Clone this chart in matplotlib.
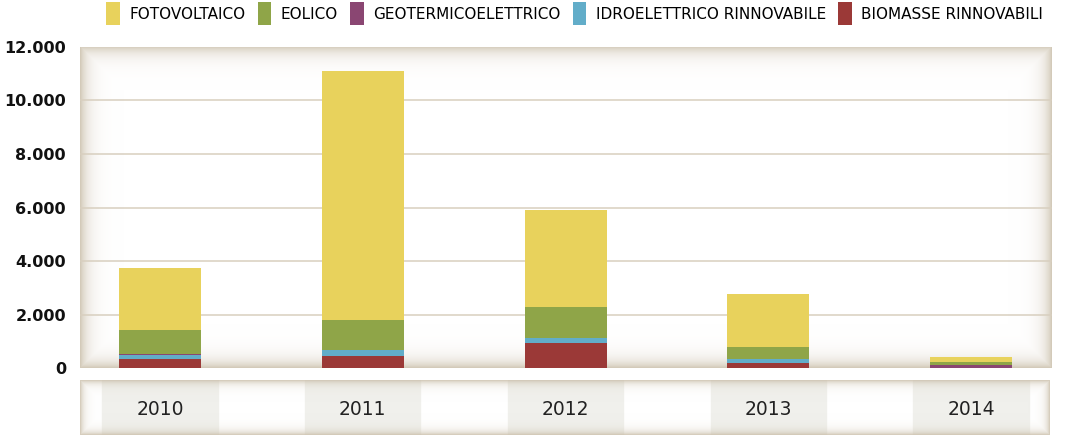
import matplotlib.pyplot as plt
import numpy as np

years = ['2010', '2011', '2012', '2013', '2014']
biomasse = [335, 458, 942, 209, 5]
idro = [150, 224, 186, 126, 20]
geo = [50, 5, 5, 5, 98]
eolico = [905, 1128, 1167, 470, 122]
fotovoltaico = [2297, 9288, 3601, 1962, 175]

series = [
    ('BIOMASSE RINNOVABILI', biomasse, '#9b3937'),
    ('IDROELETTRICO RINNOVABILE', idro, '#62adc9'),
    ('GEOTERMICOELETTRICO', geo, '#8a4672'),
    ('EOLICO', eolico, '#8fa548'),
    ('FOTOVOLTAICO', fotovoltaico, '#e8d25c'),
]

W, H = 1066, 446
fig = plt.figure(figsize=(W / 100, H / 100), dpi=100)
fig.patch.set_facecolor('white')

x = np.arange(len(years))
xlim = (-80 / 202.75, (1052 - 160) / 202.75)
beige = np.array([0.80, 0.76, 0.68])


def shade(ax, wpx, hpx, decay=7.0, strength=0.85):
    # soft inner shadow along the frame edges
    yy, xx = np.mgrid[0:hpx, 0:wpx]
    d = np.minimum.reduce([xx, wpx - 1 - xx, yy, hpx - 1 - yy]).astype(float)
    img = np.zeros((hpx, wpx, 4))
    img[..., :3] = beige
    img[..., 3] = strength * np.exp(-d / decay)
    ax.imshow(img, extent=[*ax.get_xlim(), *ax.get_ylim()], aspect='auto',
              zorder=0, interpolation='bilinear')


# main chart
ax = fig.add_axes([80 / W, 1 - 368.3 / H, 972 / W, (368.3 - 46.7) / H])
ax.set_xlim(*xlim)
ax.set_ylim(0, 12000)
shade(ax, 972, 322, decay=8.0)
for yv in range(2000, 12000, 2000):
    ax.axhline(yv, color='#d8cfbf', lw=1.1, zorder=1)

bottom = np.zeros(len(years))
handles = {}
for name, vals, col in series:
    b = ax.bar(x, vals, width=82 / 202.75, bottom=bottom, color=col, zorder=2)
    handles[name] = b
    bottom += np.array(vals)

ax.set_yticks(range(0, 12001, 2000))
ax.set_yticklabels([f'{v:,}'.replace(',', '.') for v in range(0, 12001, 2000)],
                   fontsize=11.5, fontweight='bold', color='#111111')
ax.tick_params(axis='y', length=0, pad=10)
ax.set_xticks([])
for s in ax.spines.values():
    s.set_visible(False)

# category strip
ax2 = fig.add_axes([80 / W, 1 - 435 / H, 970 / W, 55 / H])
ax2.set_xlim(xlim[0], xlim[0] + 970 / 202.75)
ax2.set_ylim(0, 1)
for xi, yr in zip(x, years):
    ax2.axvspan(xi - 0.284, xi + 0.284, color='#f0f0ec', zorder=0)
    ax2.text(xi, 0.47, yr, ha='center', va='center', fontsize=13.5, color='#222222')
shade(ax2, 970, 55, decay=4.0, strength=0.8)
ax2.set_xticks([])
ax2.set_yticks([])
for s in ax2.spines.values():
    s.set_visible(False)

# legend
order = ['FOTOVOLTAICO', 'EOLICO', 'GEOTERMICOELETTRICO',
         'IDROELETTRICO RINNOVABILE', 'BIOMASSE RINNOVABILI']
fig.legend([handles[n] for n in order], order, loc='upper right',
           bbox_to_anchor=(1052 / W, 1.015), ncol=5, frameon=False,
           prop={'family': ['Liberation Sans Narrow', 'DejaVu Sans'], 'size': 11},
           handlelength=0.9, handleheight=1.9, handletextpad=0.6,
           columnspacing=0.8, borderaxespad=0.2)

plt.savefig('out.png', dpi=100)
